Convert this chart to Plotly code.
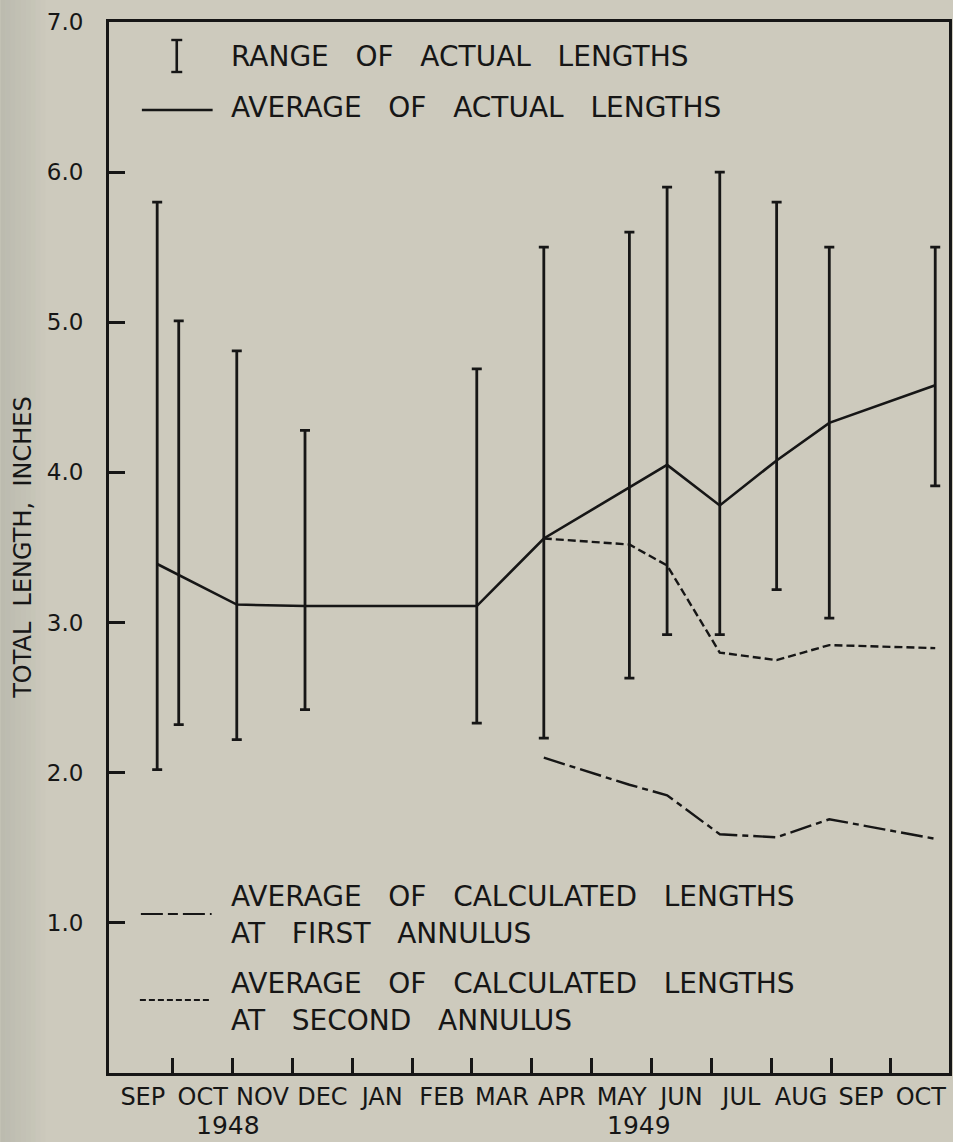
import plotly.graph_objects as go

# Sampling dates, expressed in months after 1 September 1948
sample_month = [0.74, 1.10, 2.07, 3.21, 6.08, 7.20, 8.63, 9.26, 10.14, 11.09, 11.97, 13.74]

# Range and average of actual total lengths (inches)
range_high = [5.80, 5.01, 4.81, 4.28, 4.69, 5.50, 5.60, 5.90, 6.00, 5.80, 5.50, 5.50]
range_low = [2.02, 2.32, 2.22, 2.42, 2.33, 2.23, 2.63, 2.92, 2.92, 3.22, 3.03, 3.91]
avg_actual = [3.39, None, 3.12, 3.11, 3.11, 3.56, 3.90, 4.05, 3.78, 4.08, 4.33, 4.58]

# Back-calculated lengths (1949 samples only)
annulus_month = sample_month[5:]
avg_first_annulus = [2.10, 1.92, 1.85, 1.59, 1.57, 1.69, 1.56]
avg_second_annulus = [3.56, 3.52, 3.38, 2.80, 2.75, 2.85, 2.83]

month_labels = ["SEP", "OCT", "NOV", "DEC", "JAN", "FEB", "MAR",
                "APR", "MAY", "JUN", "JUL", "AUG", "SEP", "OCT"]
year_labels = ["1948", "1949"]
y_tick_values = [1, 2, 3, 4, 5, 6, 7]
y_tick_labels = ["1.0", "2.0", "3.0", "4.0", "5.0", "6.0", "7.0"]

INK = "#161616"
PAPER = "#cdcabd"
FONT = "DejaVu Sans"

W, H = 953, 1142
ML, MR, MT, MB = 109, 1, 22, 69
PW, PH = W - ML - MR, H - MT - MB


def px(x):
    """Horizontal pixel position -> paper coordinate."""
    return (x - ML) / PW


def py(y):
    """Vertical pixel position -> paper coordinate."""
    return (H - MB - y) / PH


fig = go.Figure()

# Range of actual lengths: vertical bars with end caps
fig.add_trace(go.Scatter(
    x=sample_month, y=range_low, mode="markers",
    marker=dict(size=2, color=INK, opacity=0),
    error_y=dict(type="data", symmetric=False,
                 array=[h - l for h, l in zip(range_high, range_low)],
                 arrayminus=[0] * len(range_low),
                 color=INK, thickness=2.8, width=5),
    hoverinfo="skip", showlegend=False,
))

# Average of actual lengths
fig.add_trace(go.Scatter(
    x=sample_month, y=avg_actual, mode="lines", connectgaps=True,
    line=dict(color=INK, width=2.6), hoverinfo="skip", showlegend=False,
))

# Average calculated length at first annulus
fig.add_trace(go.Scatter(
    x=annulus_month, y=avg_first_annulus, mode="lines",
    line=dict(color=INK, width=2.4, dash="22px,5px,6px,5px"),
    hoverinfo="skip", showlegend=False,
))

# Average calculated length at second annulus
fig.add_trace(go.Scatter(
    x=annulus_month, y=avg_second_annulus, mode="lines",
    line=dict(color=INK, width=2.4, dash="8px,4px"),
    hoverinfo="skip", showlegend=False,
))

shapes = []

# darker scan edge along the left margin
for i in range(9):
    shapes.append(dict(type="rect", xref="paper", yref="paper",
                       x0=px(i * 5), x1=px(i * 5 + 5), y0=py(H), y1=py(0),
                       fillcolor="#7f877f", opacity=0.22 * (1 - i / 9),
                       line=dict(width=0), layer="below"))

# key: range symbol
shapes += [
    dict(type="line", xref="paper", yref="paper",
         x0=px(177), x1=px(177), y0=py(40), y1=py(72),
         line=dict(color=INK, width=2.6)),
    dict(type="line", xref="paper", yref="paper",
         x0=px(171.5), x1=px(182.5), y0=py(40), y1=py(40),
         line=dict(color=INK, width=2.4)),
    dict(type="line", xref="paper", yref="paper",
         x0=px(171.5), x1=px(182.5), y0=py(72), y1=py(72),
         line=dict(color=INK, width=2.4)),
]
# key: line samples
shapes += [
    dict(type="line", xref="paper", yref="paper",
         x0=px(142), x1=px(213), y0=py(110), y1=py(110),
         line=dict(color=INK, width=2.4)),
    dict(type="line", xref="paper", yref="paper",
         x0=px(141), x1=px(212), y0=py(914), y1=py(914),
         line=dict(color=INK, width=2.2, dash="22px,5px,10px,5px")),
    dict(type="line", xref="paper", yref="paper",
         x0=px(140), x1=px(212), y0=py(1000), y1=py(1000),
         line=dict(color=INK, width=2.2, dash="6px,3px")),
]


def words(*w, gap=3):
    return ("\u00a0" * gap).join(w)


key_lines = [
    (words("RANGE", "OF", "ACTUAL", "LENGTHS"), 57),
    (words("AVERAGE", "OF", "ACTUAL", "LENGTHS"), 108),
    (words("AVERAGE", "OF", "CALCULATED", "LENGTHS"), 896),
    (words("AT", "FIRST", "ANNULUS"), 933),
    (words("AVERAGE", "OF", "CALCULATED", "LENGTHS"), 983),
    (words("AT", "SECOND", "ANNULUS"), 1020),
]

annotations = []
for text, yc in key_lines:
    annotations.append(dict(
        text=text, xref="paper", yref="paper", x=px(229), y=py(yc),
        xanchor="left", yanchor="middle", showarrow=False,
        font=dict(family=FONT, size=28, color=INK)))

# year labels under the month axis
for text, xc in zip(year_labels, [228, 641]):
    annotations.append(dict(
        text=text, xref="paper", yref="paper", x=px(xc), y=py(1125),
        xanchor="center", yanchor="middle", showarrow=False,
        font=dict(family=FONT, size=25, color=INK)))

# vertical axis title
annotations.append(dict(
    text=words("TOTAL", "LENGTH,", "INCHES", gap=2), xref="paper", yref="paper",
    x=px(22), y=0.5, textangle=-90, xanchor="center", yanchor="middle",
    showarrow=False, font=dict(family=FONT, size=24, color=INK)))

fig.update_layout(
    width=W, height=H,
    margin=dict(l=ML, r=MR, t=MT, b=MB, pad=0),
    paper_bgcolor=PAPER, plot_bgcolor=PAPER,
    font=dict(family=FONT, color=INK),
    shapes=shapes, annotations=annotations,
    xaxis=dict(
        range=[-0.065, 13.97], showgrid=False, zeroline=False,
        showline=True, mirror=True, linecolor=INK, linewidth=3,
        tickmode="array", tickvals=[i + 0.5 for i in range(len(month_labels))],
        ticktext=month_labels, ticks="", tickfont=dict(size=24, color=INK),
        ticklabelstandoff=0,
        minor=dict(tickmode="array", tickvals=list(range(1, len(month_labels))),
                   ticks="inside", ticklen=15, tickwidth=2.6, tickcolor=INK,
                   showgrid=False),
    ),
    yaxis=dict(
        range=[0, 7], showgrid=False, zeroline=False,
        showline=True, mirror=True, linecolor=INK, linewidth=3,
        tickmode="array", tickvals=y_tick_values, ticktext=y_tick_labels,
        ticks="inside", ticklen=16, tickwidth=2.6, tickcolor=INK,
        tickfont=dict(size=23, color=INK), ticklabelstandoff=18,
    ),
)

fig.write_html("out.html")
